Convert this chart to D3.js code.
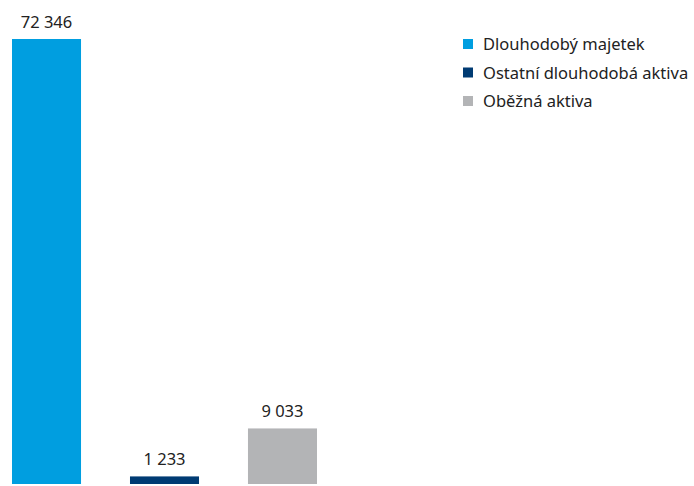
<!DOCTYPE html>
<html><head><meta charset="utf-8">
<script src="https://cdn.jsdelivr.net/npm/d3@7"></script>
<style>body{margin:0;background:#fff}svg{display:block}</style>
</head><body>
<svg id="c" width="694" height="486"></svg>
<script>
const categories = ["Dlouhodobý majetek", "Ostatní dlouhodobá aktiva", "Oběžná aktiva"];
const values = [72346, 1233, 9033];
const labels = ["72 346", "1 233", "9 033"];
const colors = ["#009ee0", "#003b73", "#b3b4b6"];

const svg = d3.select("#c");
const font = "'Noto Sans', 'Open Sans', sans-serif";
const x = d3.scaleBand().domain(categories).range([12, 317]).paddingInner(0.415).paddingOuter(0);
const y = d3.scaleLinear().domain([0, 72346]).range([484, 39]);
const bw = x.bandwidth();

svg.selectAll("rect.bar").data(categories).join("rect")
  .attr("class", "bar")
  .attr("x", d => x(d)).attr("width", bw)
  .attr("y", (d, i) => y(values[i])).attr("height", (d, i) => y(0) - y(values[i]))
  .attr("fill", (d, i) => colors[i]);

svg.selectAll("text.val").data(categories).join("text")
  .attr("class", "val")
  .attr("x", d => x(d) + bw / 2).attr("y", (d, i) => y(values[i]) - 11)
  .attr("text-anchor", "middle").attr("font-family", font).attr("font-size", 16.5)
  .attr("fill", "#222").text((d, i) => labels[i]);

const lg = svg.append("g");
categories.forEach((c, i) => {
  lg.append("rect").attr("x", 463).attr("y", 39 + i * 28.5).attr("width", 10).attr("height", 10).attr("fill", colors[i]);
  lg.append("text").attr("x", 483).attr("y", 50 + i * 28.5).attr("font-family", font).attr("font-size", 16.5)
    .attr("fill", "#222").text(c);
});
</script>
</body></html>
